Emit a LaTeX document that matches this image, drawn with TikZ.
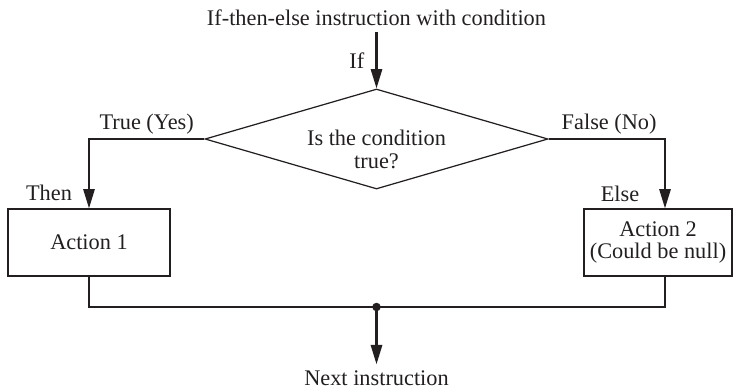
\documentclass[tikz,border=0pt]{standalone}
\usepackage{fontspec}
\setmainfont{Liberation Serif}
\usetikzlibrary{shapes.geometric, arrows.meta, positioning}
\definecolor{mydark}{RGB}{35,31,32}
\tikzset{
  box/.style={rectangle, draw=mydark, line width=0.7pt,
    minimum height=1.34cm, align=center, inner xsep=2pt},
  decision/.style={diamond, draw=mydark, line width=0.7pt,
    minimum width=6.86cm, minimum height=2cm, inner sep=0pt},
  lbl/.style={inner sep=2pt},
  arrow/.style={-{Triangle[length=11pt, width=6.4pt]}, line width=1.25pt, color=mydark},
  line/.style={line width=1.25pt, color=mydark}
}

\begin{document}
\begin{tikzpicture}[every node/.style={font=\fontsize{12.7}{12.7}\selectfont, text=mydark}]
  \useasboundingbox (0,0) rectangle (14.76,7.78);

  % Condition
  \node (title) at (7.53,7.42) {If-then-else instruction with condition};
  \node[decision] (cond) at (7.53,5.0) {};
  \node[align=center] (condtext) at (7.53,4.79) {Is the condition\\true?};
  \draw[arrow] (title) -- node[left=3pt] {If} (cond);

  % Branches
  \node[box, minimum width=3.24cm] (act1) at (1.78,2.93) {Action 1};
  \node[box, minimum width=2.96cm] (act2) at (13.16,2.93) {Action 2\\(Could be null)};
  \node (thenlbl) at (0.98,3.92) {Then};
  \node (elselbl) at (12.4,3.9) {Else};
  \draw[arrow] (cond.west) -| node[lbl, pos=0.25, above] {True (Yes)} (act1.north);
  \draw[arrow] (cond.east) -| node[lbl, pos=0.26, above] {False (No)} ([xshift=0.14cm]act2.north);

  % Merge
  \coordinate (join) at (7.53,1.64);
  \node (next) at (7.53,0.22) {Next instruction};
  \draw[line] (act1.south) |- (join) -| ([xshift=0.14cm]act2.south);
  \fill[mydark] (join) circle (0.085);
  \draw[arrow] (join) -- (next);
\end{tikzpicture}
\end{document}
